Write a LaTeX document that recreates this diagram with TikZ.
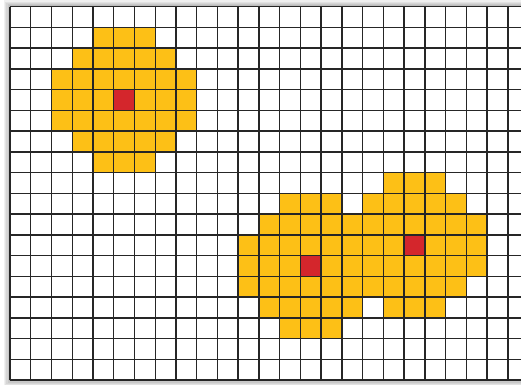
\documentclass[tikz,border=0pt]{standalone}
\usepackage{xcolor}
\definecolor{cellorange}{RGB}{253,192,22}
\definecolor{cellred}{RGB}{212,38,44}
\usepackage{tikz}

\begin{document}
\begin{tikzpicture}[
    x=0.5cm, y=-0.5cm,
    gridline/.style={draw=black!85, line width=1pt},
    spread/.style={fill=cellorange},
    seed/.style={fill=cellred},
    glow/.style={fill=black, opacity=0.06},
]
\useasboundingbox (-0.482,-0.323) rectangle (24.63,18.23);
\clip (-0.482,-0.323) rectangle (24.63,18.23);

% soft shadow round the sheet
\foreach \k in {1,...,5}
  \fill[glow] (-0.06*\k,-0.06*\k) rectangle (25+0.06*\k,18+0.06*\k);
\fill[white] (0,0) rectangle (25,18);

% spread of each seed cell
\foreach \cx/\cy in {5/4, 14/12, 19/11} {
  \foreach \dx in {-3,...,3} {
    \foreach \dy in {-3,...,3} {
      \pgfmathtruncatemacro\dd{\dx*\dx+\dy*\dy}
      \ifnum\dd<11 \fill[spread] (\cx+\dx,\cy+\dy) rectangle ++(1,1); \fi
    }
  }
}

% seed cells
\foreach \cx/\cy in {5/4, 14/12, 19/11}
  \fill[seed] (\cx,\cy) rectangle ++(1,1);

% grid
\foreach \i in {0,...,25}
  \draw[gridline] (\i,0) -- (\i,18);
\foreach \j in {0,...,18}
  \draw[gridline] (0,\j) -- (25,\j);

\end{tikzpicture}
\end{document}
